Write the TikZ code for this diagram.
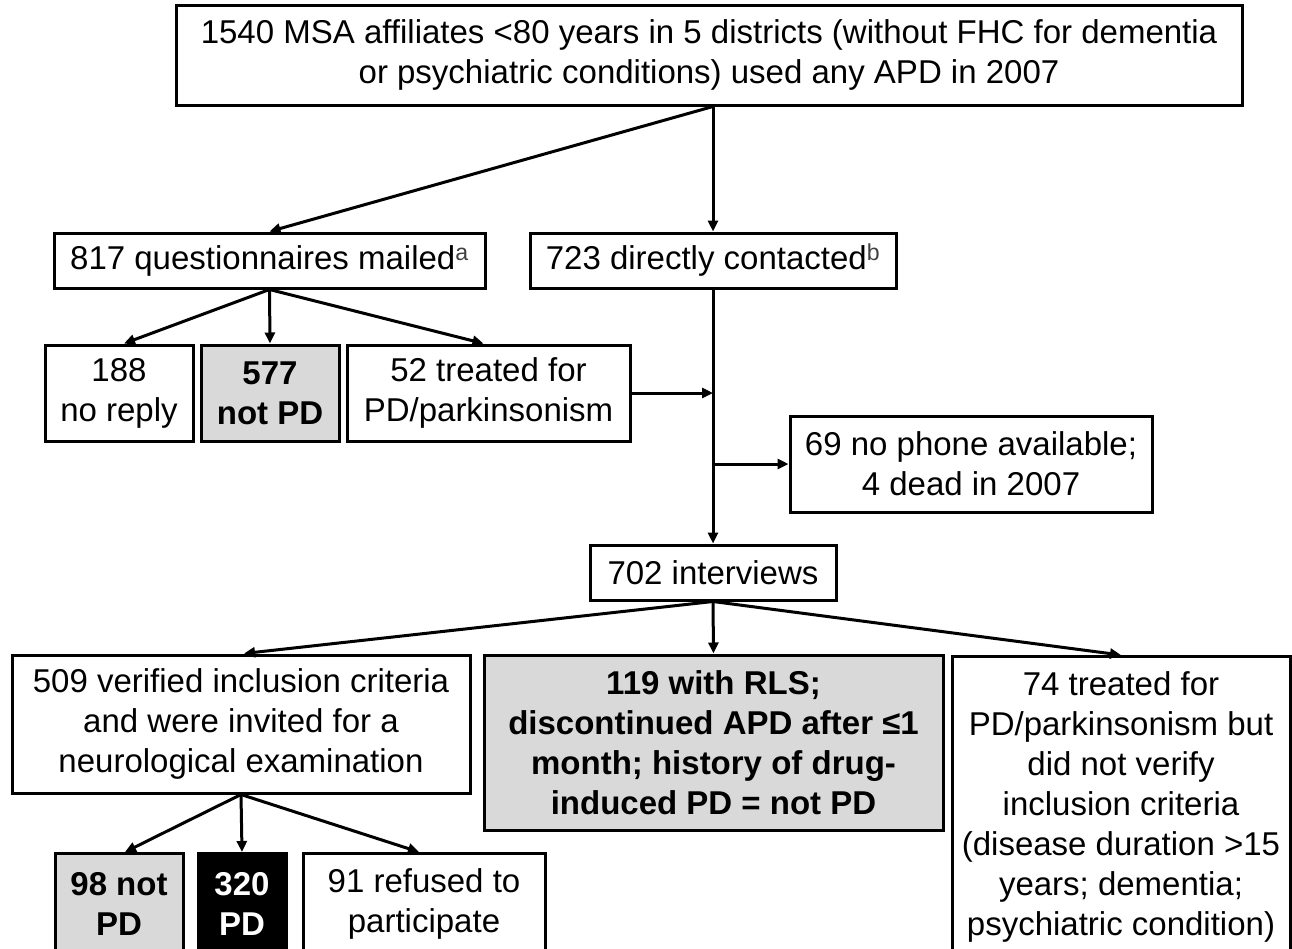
\documentclass[tikz,border=0pt]{standalone}
\usepackage{fontspec}
\setmainfont{Liberation Sans}
\usetikzlibrary{arrows.meta}
\begin{document}
\begin{tikzpicture}[x=1pt,y=-1pt,
  box/.style={draw=black, line width=3pt, fill=white, inner sep=0pt, align=center,
    font=\fontsize{33}{40}\selectfont, text=black},
  graybox/.style={box, fill=boxgray},
  arr/.style={line width=3pt, -{Triangle[length=11pt,width=10pt]}},
  ln/.style={line width=3pt}]
\definecolor{boxgray}{RGB}{217,217,217}
\fill[white] (0,0) rectangle (1292,948);
\useasboundingbox (0,0) rectangle (1292,948);
% boxes
\node[box, minimum width=1066pt, minimum height=100pt] (top) at (709,55)
  {1540 MSA affiliates <80 years in 5 districts (without FHC for dementia\\or psychiatric conditions) used any APD in 2007};
\node[box, minimum width=431pt, minimum height=55pt] (q) at (269.5,260.5)
  {817 questionnaires mailed\textsuperscript{\color{darkgray}a}};
\node[box, minimum width=366pt, minimum height=55pt] (d) at (713,260.5)
  {723 directly contacted\textsuperscript{\color{darkgray}b}};
\node[box, minimum width=148pt, minimum height=96pt] (nr) at (119,393)
  {188\\no reply};
\node[graybox, minimum width=138pt, minimum height=96pt] (np) at (270,393)
  {\bfseries 577\\\bfseries not PD};
\node[box, minimum width=283pt, minimum height=96pt] (tr) at (488.5,393)
  {52 treated for\\PD/parkinsonism};
\node[box, minimum width=362pt, minimum height=96pt] (ph) at (971,464)
  {69 no phone available;\\4 dead in 2007};
\node[box, minimum width=246pt, minimum height=55pt] (iv) at (713,572.5)
  {702 interviews};
\node[box, minimum width=458pt, minimum height=138pt] (vc) at (241,724)
  {509 verified inclusion criteria\\and were invited for a\\neurological examination};
\node[graybox, minimum width=459pt, minimum height=175pt] (rls) at (713.5,742.5)
  {\bfseries 119 with RLS;\\\bfseries discontinued APD after ≤1\\\bfseries month; history of drug-\\\bfseries induced PD = not PD};
\node[box, minimum width=338pt, minimum height=300pt, anchor=north] (nv) at (1121,655)
  {74 treated for\\PD/parkinsonism but\\did not verify\\inclusion criteria\\(disease duration >15\\years; dementia;\\psychiatric condition)};
\node[graybox, minimum width=128pt, minimum height=100pt, anchor=north] (nn) at (119,852)
  {\bfseries 98 not\\\bfseries PD};
\node[box, fill=black, text=white, minimum width=88pt, minimum height=100pt, anchor=north] (pd) at (242,852)
  {\bfseries 320\\\bfseries PD};
\node[box, minimum width=242pt, minimum height=100pt, anchor=north] (rf) at (424,852)
  {91 refused to\\participate};
% connectors
\coordinate (ts) at (top.south -| d.north);
\draw[arr] (ts) -- (d.north);
\draw[arr] (ts) -- (q.north);
\draw[arr] (q.south) -- ([xshift=5pt]nr.north);
\draw[arr] (q.south) -- (np.north);
\draw[arr] (q.south) -- ([xshift=-5pt]tr.north);
\draw[arr] (d.south) -- (iv.north);
\draw[arr] (tr.east) -- (tr.east -| d.south);
\draw[arr] (ph.west -| d.south) -- (ph.west);
\draw[arr] (iv.south) -- ([xshift=3pt]vc.north);
\draw[arr] (iv.south) -- (rls.north);
\draw[arr] (iv.south) -- (nv.north);
\draw[arr] (vc.south) -- ([xshift=6pt]nn.north);
\draw[arr] (vc.south) -- (pd.north);
\draw[arr] (vc.south) -- ([xshift=-5pt]rf.north);
\end{tikzpicture}
\end{document}
